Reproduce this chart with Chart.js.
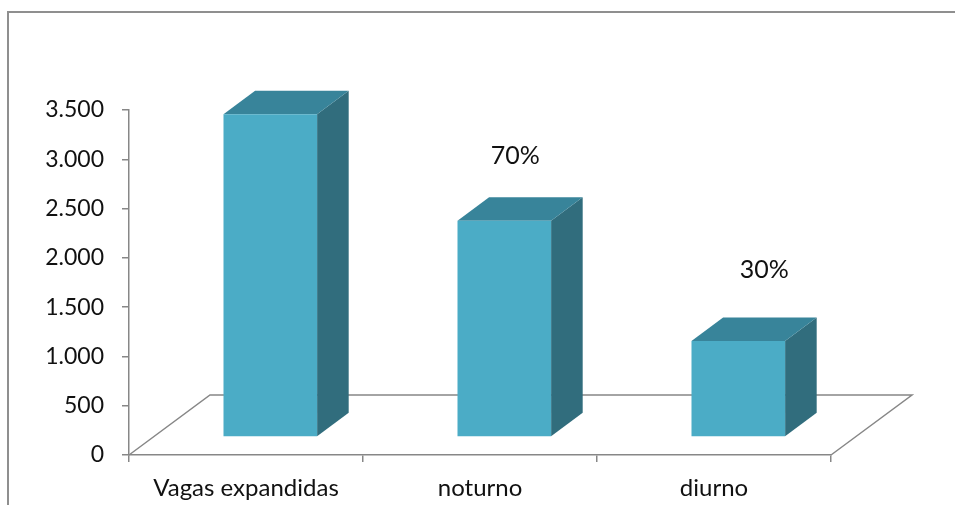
<!DOCTYPE html>
<html>
<head>
<meta charset="utf-8">
<script src="https://cdn.jsdelivr.net/npm/chart.js@4"></script>
<style>
  html, body { margin: 0; padding: 0; background: #fff; }
  canvas { display: block; }
</style>
</head>
<body>
<canvas id="c" width="955" height="505"></canvas>
<script>
// Vagas por turno
const categories = ['Vagas expandidas', 'noturno', 'diurno'];
const vagas = [3275, 2195, 975];
const valueLabels = ['', '70%', '30%'];
const yTickValues = [0, 500, 1000, 1500, 2000, 2500, 3000, 3500];
const yTickLabels = ['0', '500', '1.000', '1.500', '2.000', '2.500', '3.000', '3.500'];

const AXIS_GRAY = '#878787';
const FONT = 'Lato, "Open Sans", sans-serif';

// Oblique 3D look: a floor plane and box-shaped columns
const box3d = {
  id: 'box3d',
  beforeDraw(chart) {
    const { ctx, width, height } = chart;
    ctx.save();
    ctx.fillStyle = '#ffffff';
    ctx.fillRect(0, 0, width, height);
    // outer frame (left and top edges visible)
    ctx.strokeStyle = '#8f8f8f';
    ctx.lineWidth = 2;
    ctx.strokeRect(8, 12, width + 40, height + 40);
    ctx.restore();
  },
  beforeDatasetsDraw(chart, args, o) {
    const { ctx, chartArea: a, scales: { y } } = chart;
    const y0 = y.getPixelForValue(0);
    // floor outline
    ctx.save();
    ctx.strokeStyle = AXIS_GRAY;
    ctx.lineWidth = 1.5;
    ctx.beginPath();
    ctx.moveTo(a.left, y0);
    ctx.lineTo(a.left + o.dx, y0 + o.dy);
    ctx.lineTo(a.right + o.dx, y0 + o.dy);
    ctx.lineTo(a.right, y0);
    ctx.stroke();
    ctx.restore();

    // columns sit partway back on the floor
    ctx.save();
    ctx.translate(o.front * o.dx, o.front * o.dy);
    const ddx = o.depth * o.dx, ddy = o.depth * o.dy;
    chart.getDatasetMeta(0).data.forEach(bar => {
      const p = bar.getProps(['x', 'y', 'base', 'width'], true);
      const l = p.x - p.width / 2, r = p.x + p.width / 2;
      // right side face
      ctx.fillStyle = o.sideColor;
      ctx.beginPath();
      ctx.moveTo(r, p.y);
      ctx.lineTo(r + ddx, p.y + ddy);
      ctx.lineTo(r + ddx, p.base + ddy);
      ctx.lineTo(r, p.base);
      ctx.closePath();
      ctx.fill();
      // top face
      ctx.fillStyle = o.topColor;
      ctx.beginPath();
      ctx.moveTo(l, p.y);
      ctx.lineTo(l + ddx, p.y + ddy);
      ctx.lineTo(r + ddx, p.y + ddy);
      ctx.lineTo(r, p.y);
      ctx.closePath();
      ctx.fill();
    });
  },
  afterDatasetsDraw(chart, args, o) {
    const { ctx } = chart;
    // value labels above the columns (still in the translated frame)
    ctx.fillStyle = '#111';
    ctx.font = '25px ' + FONT;
    ctx.textAlign = 'center';
    ctx.textBaseline = 'middle';
    chart.getDatasetMeta(0).data.forEach((bar, i) => {
      const text = valueLabels[i];
      if (!text) return;
      const off = o.labelOffsets[i];
      ctx.fillText(text, bar.x + off[0], bar.y + off[1]);
    });
    ctx.restore();
  }
};

new Chart(document.getElementById('c'), {
  type: 'bar',
  data: {
    labels: categories,
    datasets: [{
      data: vagas,
      backgroundColor: '#4BACC6',
      borderWidth: 0,
      barPercentage: 0.4,
      categoryPercentage: 1,
      clip: false
    }]
  },
  options: {
    responsive: false,
    animation: false,
    events: [],
    layout: { padding: { left: 0, top: 110, right: 124, bottom: 0 } },
    plugins: {
      legend: { display: false },
      tooltip: { enabled: false },
      box3d: {
        dx: 81, dy: -60, front: 0.3, depth: 0.39,
        topColor: '#38849A', sideColor: '#316D7D',
        labelOffsets: [[0, 0], [11, -65], [26, -71]]
      }
    },
    scales: {
      x: {
        offset: true,
        grid: {
          offset: true, drawOnChartArea: false, drawTicks: true,
          tickLength: 7, color: AXIS_GRAY, lineWidth: 1.5
        },
        border: { display: true, color: AXIS_GRAY, width: 1.5 },
        ticks: {
          color: '#111', font: { family: FONT, size: 24 },
          padding: 12, maxRotation: 0, autoSkip: false
        },
        afterFit(s) { s.height = 50; }
      },
      y: {
        min: 0, max: 3500,
        afterBuildTicks(s) { s.ticks = yTickValues.map(v => ({ value: v })); },
        grid: {
          drawOnChartArea: false, drawTicks: true,
          tickLength: 7, color: AXIS_GRAY, lineWidth: 1.5
        },
        border: { display: true, color: AXIS_GRAY, width: 1.5 },
        ticks: {
          color: '#111', font: { family: FONT, size: 23 }, padding: 18,
          callback: (v, i) => yTickLabels[i]
        },
        afterFit(s) { s.width = 129; }
      }
    }
  },
  plugins: [box3d]
});
</script>
</body>
</html>
